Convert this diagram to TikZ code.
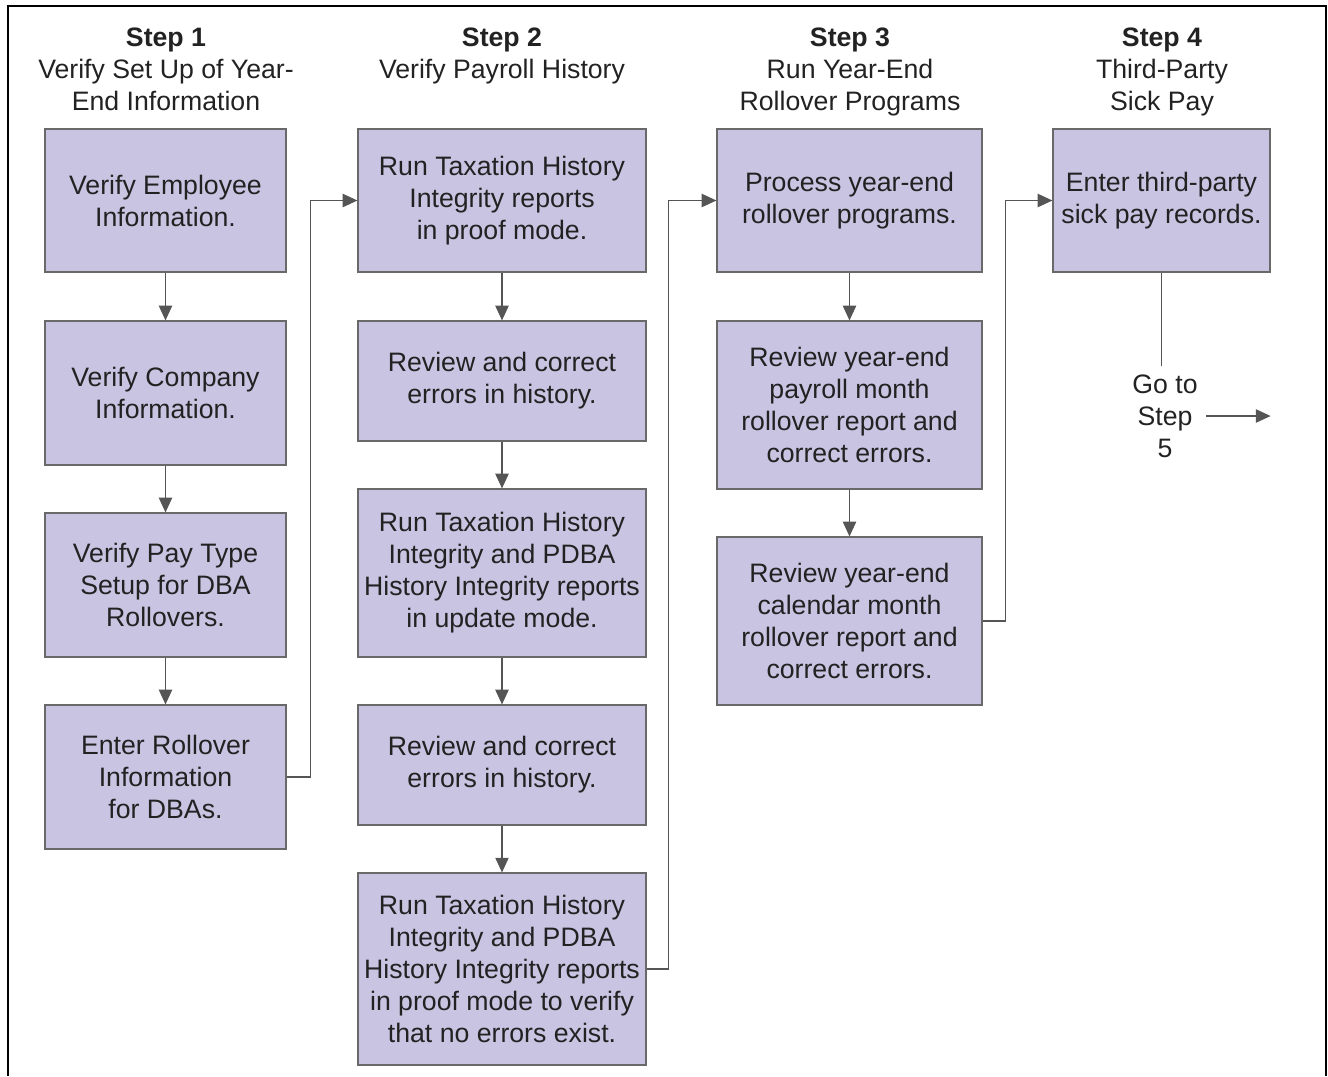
\documentclass[tikz,border=0pt]{standalone}
\usepackage{fontspec}
\setmainfont{Liberation Sans}
\usetikzlibrary{arrows.meta}

\definecolor{boxfill}{RGB}{200,196,226}
\definecolor{boxline}{RGB}{105,105,105}
\definecolor{linkgray}{RGB}{85,85,85}
\definecolor{inkgray}{RGB}{34,34,34}

\tikzset{
  procbox/.style={draw=boxline, fill=boxfill, line width=0.9pt, align=center, inner sep=0pt, text=inkgray},
  steplabel/.style={align=center, anchor=north, inner sep=0pt, text=inkgray},
  flowarrow/.style={draw=linkgray, line width=0.8pt, -{Triangle[length=11pt,width=10pt]}},
  flowline/.style={draw=linkgray, line width=0.8pt}
}

\begin{document}
\begin{tikzpicture}[x=0.75pt,y=0.75pt,yscale=-1,xscale=1,font=\fontsize{20}{24}\selectfont]

\useasboundingbox (0,0) rectangle (1328,1076);

%Frame (open at the bottom)
\draw [line width=1.6pt] (8,1076) -- (8,6) -- (1326,6) -- (1326,1076) ;

% Text Node
\node [steplabel] (hd1) at (166,27.5) {\textbf{Step 1}\\Verify Set Up of Year-\\End Information};
% Text Node
\node [steplabel] (hd2) at (502,27.5) {\textbf{Step 2}\\Verify Payroll History};
% Text Node
\node [steplabel] (hd3) at (850,27.5) {\textbf{Step 3}\\Run Year-End\\Rollover Programs};
% Text Node
\node [steplabel] (hd4) at (1162,27.5) {\textbf{Step 4}\\Third-Party\\Sick Pay};

%Step 1 boxes
\node [procbox, minimum width=180.75pt, minimum height=107.25pt] (b1) at (165.5,200.5) {Verify Employee\\Information.};
\node [procbox, minimum width=180.75pt, minimum height=108pt] (b2) at (165.5,393) {Verify Company\\Information.};
\node [procbox, minimum width=180.75pt, minimum height=108pt] (b3) at (165.5,585) {Verify Pay Type\\Setup for DBA\\Rollovers.};
\node [procbox, minimum width=180.75pt, minimum height=108pt] (b4) at (165.5,777) {Enter Rollover\\Information\\for DBAs.};

%Step 2 boxes
\node [procbox, minimum width=216pt, minimum height=107.25pt] (c1) at (502,200.5) {Run Taxation History\\Integrity reports\\in proof mode.};
\node [procbox, minimum width=216pt, minimum height=90pt] (c2) at (502,381) {Review and correct\\errors in history.};
\node [procbox, minimum width=216pt, minimum height=126pt] (c3) at (502,573) {Run Taxation History\\Integrity and PDBA\\History Integrity reports\\in update mode.};
\node [procbox, minimum width=216pt, minimum height=90pt] (c4) at (502,765) {Review and correct\\errors in history.};
\node [procbox, minimum width=216pt, minimum height=144pt] (c5) at (502,969) {Run Taxation History\\Integrity and PDBA\\History Integrity reports\\in proof mode to verify\\that no errors exist.};

%Step 3 boxes
\node [procbox, minimum width=198.75pt, minimum height=107.25pt] (d1) at (849.5,200.5) {Process year-end\\rollover programs.};
\node [procbox, minimum width=198.75pt, minimum height=126pt] (d2) at (849.5,405) {Review year-end\\payroll month\\rollover report and\\correct errors.};
\node [procbox, minimum width=198.75pt, minimum height=126pt] (d3) at (849.5,621) {Review year-end\\calendar month\\rollover report and\\correct errors.};

%Step 4 box
\node [procbox, minimum width=162.75pt, minimum height=107.25pt] (e1) at (1161.5,200.5) {Enter third-party\\sick pay records.};

% Text Node
\node [align=center, inner sep=6pt, text=inkgray] (gostep) at (1165,416) {Go to\\Step\\5};

%Connectors
\draw [flowarrow] (b1) -- (b2) ;
\draw [flowarrow] (b2) -- (b3) ;
\draw [flowarrow] (b3) -- (b4) ;
\draw [flowarrow] (c1) -- (c2) ;
\draw [flowarrow] (c2) -- (c3) ;
\draw [flowarrow] (c3) -- (c4) ;
\draw [flowarrow] (c4) -- (c5) ;
\draw [flowarrow] (d1) -- (d2) ;
\draw [flowarrow] (d2) -- (d3) ;

\draw [flowarrow] (b4.east) -- ++(24,0) |- (c1.west) ;
\draw [flowarrow] (c5.east) -- ++(22,0) |- (d1.west) ;
\draw [flowarrow] (d3.east) -- ++(23,0) |- (e1.west) ;

\draw [flowline] (e1.south) -- (e1.south |- gostep.north) ;
\draw [flowarrow] (gostep.east) -- (gostep.east -| e1.east) ;

\end{tikzpicture}
\end{document}
